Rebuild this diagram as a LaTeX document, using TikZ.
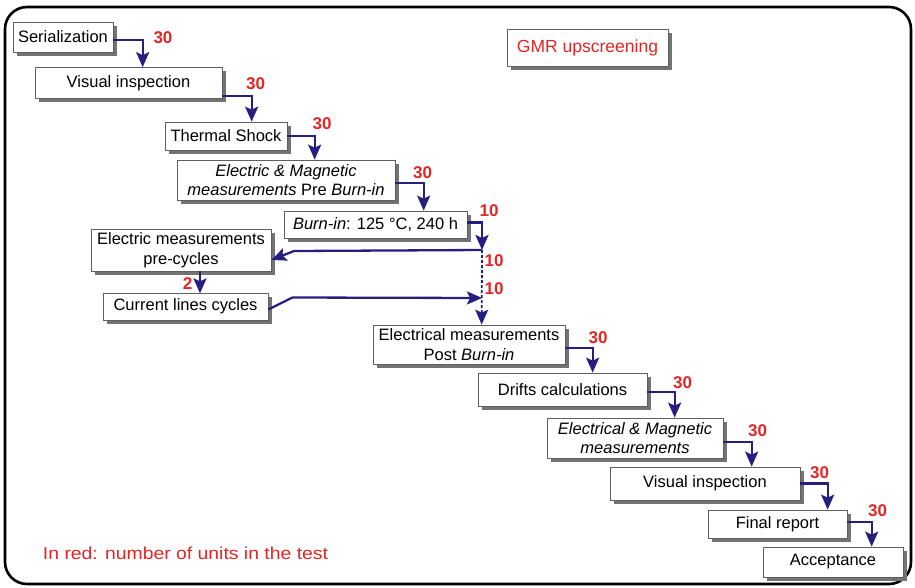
\documentclass[tikz,border=0pt]{standalone}
\usepackage{fontspec}
\setsansfont{Liberation Sans}
\newfontfamily\legendfont[FakeStretch=1.12]{Liberation Sans}
\usetikzlibrary{arrows.meta, shadows}
\definecolor{flowblue}{RGB}{38, 30, 128}
\definecolor{countred}{RGB}{226, 38, 38}
\definecolor{boxgray}{RGB}{95, 95, 95}
\tikzset{
    stepbox/.style={
        rectangle,
        draw=boxgray,
        fill=white,
        line width=0.7pt,
        drop shadow={shadow xshift=3.5pt, shadow yshift=-3.5pt, fill=black!55, opacity=1},
        align=center,
        inner sep=1pt,
        font=\sffamily\fontsize{16.5}{19.5}\selectfont
    },
    flow/.style={
        -{Stealth[length=15pt, width=13pt, inset=3pt]},
        draw=flowblue,
        line width=2.3pt,
        line join=miter
    },
    count/.style={
        text=countred,
        font=\sffamily\bfseries\fontsize{17}{19}\selectfont,
        inner sep=0pt
    }
}

\begin{document}
\begin{tikzpicture}[x=1pt, y=-1pt]
    \useasboundingbox (0,0) rectangle (915,587);
    % frame round the whole chart
    \draw[line width=2.6pt, rounded corners=22pt] (5,7) rectangle (911,584);

    % steps of the screening, top left to bottom right
    \node[stepbox, minimum width=100pt, minimum height=30pt] (serial)  at (63,37) {Serialization};
    \node[stepbox, minimum width=187pt, minimum height=31pt] (visual)  at (128.5,83) {Visual inspection};
    \node[stepbox, minimum width=122pt, minimum height=28pt] (thermal) at (226,136) {Thermal Shock};
    \node[stepbox, minimum width=218pt, minimum height=40pt] (prebi)   at (286,180)
        {\textit{Electric \& Magnetic}\\\textit{measurements} Pre \textit{Burn-in}};
    \node[stepbox, minimum width=183pt, minimum height=27pt] (burnin)  at (375.5,224.5) {\textit{Burn-in}: 125 °C, 240 h};
    \node[stepbox, minimum width=180pt, minimum height=42pt] (precyc)  at (181,250) {Electric measurements\\pre-cycles};
    \node[stepbox, minimum width=165pt, minimum height=27pt] (curlines) at (185.5,306.5) {Current lines cycles};
    \node[stepbox, minimum width=192pt, minimum height=39pt] (postbi)  at (469,344.5) {Electrical measurements\\Post \textit{Burn-in}};
    \node[stepbox, minimum width=169pt, minimum height=33pt] (drifts)  at (562.5,389.5) {Drifts calculations};
    \node[stepbox, minimum width=176pt, minimum height=40pt] (elmag)   at (635,438)
        {\textit{Electrical \& Magnetic}\\\textit{measurements}};
    \node[stepbox, minimum width=190pt, minimum height=33pt] (visualb) at (705,483.5) {Visual inspection};
    \node[stepbox, minimum width=139pt, minimum height=28pt] (final)   at (777.5,524) {Final report};
    \node[stepbox, minimum width=140pt, minimum height=30pt] (accept)  at (833,562) {Acceptance};

    \node[stepbox, minimum width=161pt, minimum height=37pt, text=countred,
          font=\sffamily\fontsize{17.5}{19}\selectfont] (gmr) at (587.5,47.5) {GMR upscreening};

    % burn-in branch points
    \coordinate (split) at (482,250);
    \coordinate (join)  at (482,298);

    \draw[flow] ([yshift=-3pt]serial.east) -| ([xshift=108pt]visual.north west);
    \draw[flow] ([yshift=-13pt]visual.east) -| ([xshift=87pt]thermal.north west);
    \draw[flow] (thermal.east) -| ([xshift=138pt]prebi.north west);
    \draw[flow] ([yshift=-3pt]prebi.east) -| ([xshift=140pt]burnin.north west);
    \draw[flow] ([yshift=2pt]burnin.east) -| (split);
    \draw[flow] (split) -- ++(-188,1) -- ([yshift=-10pt]precyc.east);
    \draw[flow] ([xshift=19pt]precyc.south) -- ++(0,22);
    \draw[flow] ([yshift=-3pt]curlines.east) -- ++(24,-12) -- (join);
    \draw[flow, line width=1.8pt, dash pattern=on 3pt off 2pt] (split) -- ([xshift=109pt]postbi.north west);
    \draw[flow] ([yshift=-3.5pt]postbi.east) -| ([xshift=115pt]drifts.north west);
    \draw[flow] ([yshift=-2.5pt]drifts.east) -| ([xshift=128pt]elmag.north west);
    \draw[flow] ([yshift=-4pt]elmag.east) -| ([xshift=142pt]visualb.north west);
    \draw[flow] (visualb.east) -| ([xshift=120pt]final.north west);
    \draw[flow] ([yshift=2pt]final.east) -| ([xshift=109pt]accept.north west);

    % units in each step
    \node[count] (nserial)  at (163,38) {30};
    \node[count] (nvisual)  at (255.5,84) {30};
    \node[count] (nthermal) at (322,124) {30};
    \node[count] (nprebi)   at (422.5,172.5) {30};
    \node[count] (nburnin)  at (489,211) {10};
    \node[count] (nprecyc)  at (494,261) {10};
    \node[count] (ncurl)    at (494,289) {10};
    \node[count] (ncycles)  at (187.5,284) {2};
    \node[count] (npostbi)  at (598,338) {30};
    \node[count] (ndrifts)  at (682.5,382.5) {30};
    \node[count] (nelmag)   at (757.5,431) {30};
    \node[count] (nvisualb) at (819.5,473) {30};
    \node[count] (nfinal)   at (877.5,511) {30};

    \node[text=countred, font=\legendfont\fontsize{17.3}{19}\selectfont] (legend) at (185.5,553)
        {In red: number of units in the test};
\end{tikzpicture}
\end{document}
